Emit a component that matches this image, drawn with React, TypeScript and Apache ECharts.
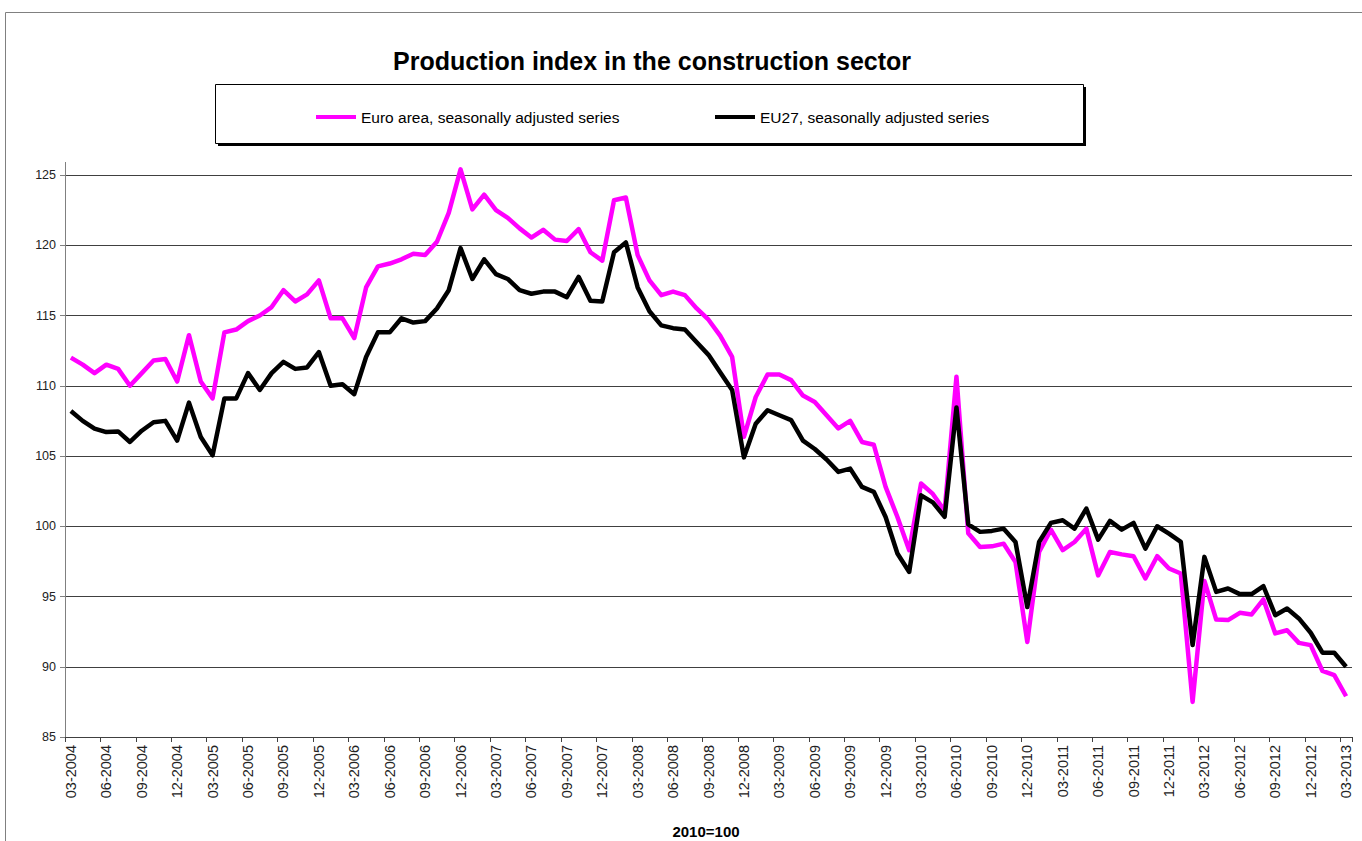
import React, { useEffect, useRef } from "react";
import * as echarts from "echarts";

const START_YEAR = 2004;
const START_MONTH = 3;
const MONTH_COUNT = 109;

const categories: string[] = [];
for (let k = 0; k < MONTH_COUNT; k++) {
  const m = ((START_MONTH - 1 + k) % 12) + 1;
  const y = START_YEAR + Math.floor((START_MONTH - 1 + k) / 12);
  categories.push(`${m < 10 ? "0" + m : m}-${y}`);
}

const seriesNames = ["Euro area, seasonally adjusted series", "EU27, seasonally adjusted series"];

const euroArea = [
  112.0, 111.5, 110.9, 111.5, 111.2, 110.0, 110.9, 111.8, 111.9, 110.3,
  113.6, 110.3, 109.1, 113.8, 114.0, 114.6, 115.0, 115.6, 116.8, 116.0,
  116.5, 117.5, 114.8, 114.8, 113.4, 117.0, 118.5, 118.7, 119.0, 119.4,
  119.3, 120.25, 122.3, 125.4, 122.55, 123.6, 122.5, 121.95, 121.2, 120.55,
  121.1, 120.4, 120.3, 121.15, 119.5, 118.9, 123.2, 123.4, 119.3, 117.5,
  116.45, 116.7, 116.45, 115.5, 114.7, 113.55, 112.06, 106.36, 109.2, 110.8,
  110.8, 110.4, 109.3, 108.85, 107.9, 106.96, 107.5, 106.0, 105.8, 102.8,
  100.66, 98.3, 103.04, 102.3, 101.1, 110.64, 99.5, 98.53, 98.57, 98.76,
  97.46, 91.76, 98.17, 99.76, 98.3, 98.88, 99.83, 96.5, 98.17, 98.0,
  97.87, 96.28, 97.87, 96.99, 96.64, 87.5, 96.11, 93.36, 93.32, 93.84,
  93.72, 94.79, 92.37, 92.6, 91.7, 91.54, 89.7, 89.4, 87.9,
];

const eu27 = [
  108.2, 107.5, 106.95, 106.7, 106.75, 106.0, 106.8, 107.4, 107.5, 106.1,
  108.8, 106.35, 105.05, 109.1, 109.1, 110.9, 109.7, 110.9, 111.7, 111.2,
  111.3, 112.4, 110.0, 110.1, 109.4, 112.05, 113.8, 113.8, 114.8, 114.5,
  114.6, 115.5, 116.8, 119.8, 117.6, 119.0, 117.95, 117.6, 116.8, 116.55,
  116.7, 116.7, 116.3, 117.75, 116.05, 116.0, 119.5, 120.2, 117.0, 115.3,
  114.3, 114.1, 114.0, 113.1, 112.2, 110.95, 109.7, 104.9, 107.3, 108.26,
  107.9, 107.55, 106.1, 105.5, 104.75, 103.87, 104.1, 102.8, 102.45, 100.66,
  98.06, 96.75, 102.2, 101.7, 100.67, 108.46, 100.14, 99.6, 99.67, 99.83,
  98.88, 94.25, 98.88, 100.24, 100.43, 99.83, 101.26, 99.05, 100.38, 99.76,
  100.24, 98.41, 100.0, 99.48, 98.89, 91.54, 97.82, 95.33, 95.57, 95.17,
  95.17, 95.73, 93.67, 94.15, 93.44, 92.42, 91.0, 91.0, 90.0,
];

const FONT = "'Liberation Sans', Arial, sans-serif";

export default function App() {
  const ref = useRef<HTMLDivElement>(null);
  useEffect(() => {
    document.body.style.margin = "0";
    if (!ref.current) return;
    const chart = echarts.init(ref.current, null, { renderer: "svg" });
    chart.setOption({
      animation: false,
      backgroundColor: "#ffffff",
      textStyle: { fontFamily: FONT },
      title: {
        text: "Production index in the construction sector",
        left: 388,
        top: 43,
        textStyle: { fontFamily: FONT, fontSize: 25, fontWeight: "bold", color: "#000" },
      },
      legend: [
        {
          data: [seriesNames[0]],
          left: 311,
          top: 104,
          icon: "rect",
          itemWidth: 40,
          itemHeight: 4,
          textStyle: { fontFamily: FONT, fontSize: 15.5, color: "#000" },
        },
        {
          data: [seriesNames[1]],
          left: 710,
          top: 104,
          icon: "rect",
          itemWidth: 40,
          itemHeight: 4,
          textStyle: { fontFamily: FONT, fontSize: 15.5, color: "#000" },
        },
      ],
      grid: { left: 65, right: 10, top: 175, bottom: 104, containLabel: false },
      xAxis: {
        type: "category",
        data: categories,
        boundaryGap: true,
        axisLine: { onZero: false, lineStyle: { color: "#404040", width: 1 } },
        axisTick: { show: true, interval: 2, length: 5, lineStyle: { color: "#404040" } },
        axisLabel: {
          interval: 2,
          rotate: 90,
          margin: 8,
          fontSize: 14.5,
          color: "#222",
          fontFamily: FONT,
        },
        splitLine: { show: false },
      },
      yAxis: {
        type: "value",
        min: 85,
        max: 125,
        interval: 5,
        axisLine: { show: true, lineStyle: { color: "#808080", width: 1 } },
        axisTick: { show: true, length: 5, lineStyle: { color: "#808080" } },
        axisLabel: { margin: 9, fontSize: 12.5, color: "#222", fontFamily: FONT },
        splitLine: { show: true, lineStyle: { color: "#404040", width: 1 } },
      },
      graphic: [
        {
          type: "rect",
          z: -10,
          shape: { x: 5.5, y: 12.5, width: 1400, height: 900 },
          style: { fill: "none", stroke: "#808080", lineWidth: 1 },
        },
        {
          type: "rect",
          shape: { x: 218, y: 87, width: 868, height: 59 },
          style: { fill: "#000" },
        },
        {
          type: "rect",
          shape: { x: 215.5, y: 84.5, width: 868, height: 59 },
          style: { fill: "#fff", stroke: "#000", lineWidth: 1 },
        },
        {
          type: "line",
          shape: { x1: 65.5, y1: 162, x2: 65.5, y2: 175 },
          style: { stroke: "#808080", lineWidth: 1 },
        },
        {
          type: "text",
          x: 706,
          y: 831,
          style: {
            text: "2010=100",
            fontFamily: FONT,
            fontSize: 15,
            fontWeight: "bold",
            fill: "#000",
            align: "center",
            verticalAlign: "middle",
          },
        },
      ],
      series: [
        {
          name: seriesNames[0],
          type: "line",
          data: euroArea,
          showSymbol: false,
          symbol: "none",
          clip: false,
          color: "#ff00ff",
          lineStyle: { color: "#ff00ff", width: 4.5, join: "round" },
          z: 2,
        },
        {
          name: seriesNames[1],
          type: "line",
          data: eu27,
          showSymbol: false,
          symbol: "none",
          clip: false,
          color: "#000000",
          lineStyle: { color: "#000000", width: 4.5, join: "round" },
          z: 3,
        },
      ],
    });
    return () => chart.dispose();
  }, []);
  return <div ref={ref} style={{ width: 1362, height: 841 }} />;
}
